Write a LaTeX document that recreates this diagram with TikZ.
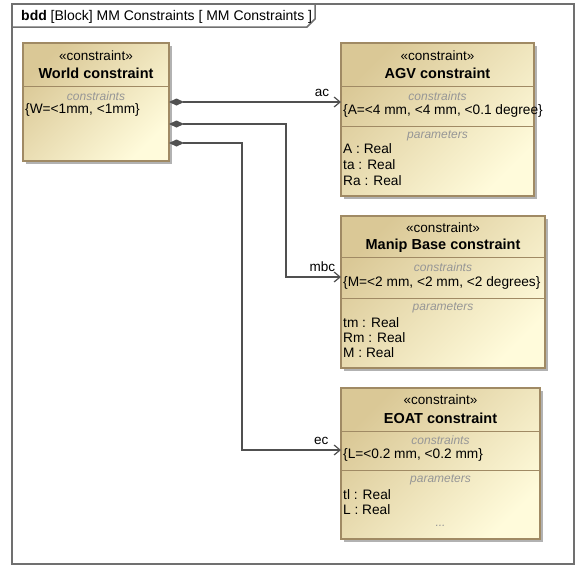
\documentclass[tikz,border=0pt]{standalone}
\usepackage{fontspec}
\setmainfont{Liberation Sans}
\usetikzlibrary{positioning,arrows.meta,shadows}
\definecolor{blocktan}{RGB}{218,200,150}
\definecolor{blocklight}{RGB}{255,251,219}
\definecolor{blockedge}{RGB}{160,138,100}
\definecolor{framegray}{RGB}{112,112,112}
\definecolor{linkgray}{RGB}{80,80,80}
\definecolor{captiongray}{RGB}{150,150,150}

\begin{document}
\begin{tikzpicture}[
x=1pt, y=-1pt,
frame/.style={draw=framegray, line width=1.5pt},
frametext/.style={font=\fontsize{14}{16}\selectfont, inner sep=0pt},
block/.style={draw=blockedge, line width=1.3pt, inner sep=0pt, outer sep=0pt, anchor=north west,
  top color=blocktan, bottom color=blocklight, shading angle=45,
  drop shadow={shadow xshift=3pt, shadow yshift=-3pt, fill=black!30, opacity=1}},
divider/.style={draw=blockedge, line width=1pt},
stereo/.style={font=\fontsize{13.5}{16}\selectfont, inner sep=0pt},
bname/.style={font=\fontsize{14.5}{17}\selectfont\bfseries, inner sep=0pt},
caption/.style={font=\fontsize{12}{14}\selectfont\itshape, text=captiongray, inner sep=0pt},
entry/.style={font=\fontsize{13.7}{16}\selectfont, anchor=west, inner sep=0pt},
link/.style={draw=linkgray, line width=1.2pt, {Diamond[length=15pt,width=7pt]}-{Straight Barb[length=6pt,width=10pt]}},
lbl/.style={font=\fontsize{13.5}{16}\selectfont, inner sep=1pt, above=4pt}
]
\useasboundingbox[fill=white] (0,0) rectangle (577,566);

% frame and its tab
\draw[frame] (12,4) rectangle (574,564);
\draw[frame] (12,27) -- (307,27) -- (315,19) -- (315,4);
\node[frametext, anchor=base west] (title) at (21,20) {\textbf{bdd} [Block] MM Constraints [ MM Constraints ]};

% constraint blocks
\node[block, minimum width=146pt, minimum height=118pt] (world) at (23,43) {};
\node[block, minimum width=193pt, minimum height=153pt] (agv) at (341,43) {};
\node[block, minimum width=204pt, minimum height=152pt] (manip) at (341,216) {};
\node[block, minimum width=199pt, minimum height=151pt] (eoat) at (341,388) {};

% World constraint
\node[stereo] at ([yshift=-13pt]world.north) {«constraint»};
\node[bname] at ([yshift=-30pt]world.north) {World constraint};
\draw[divider] ([yshift=-43pt]world.north west) -- ([yshift=-43pt]world.north east);
\node[caption] at ([yshift=-53pt]world.north) {constraints};
\node[entry] at ([shift={(2pt,-67pt)}]world.north west) {\{W=<1mm, <1mm\}};

% AGV constraint
\node[stereo] at ([yshift=-13pt]agv.north) {«constraint»};
\node[bname] at ([yshift=-30pt]agv.north) {AGV constraint};
\draw[divider] ([yshift=-43pt]agv.north west) -- ([yshift=-43pt]agv.north east);
\node[caption] at ([yshift=-53pt]agv.north) {constraints};
\node[entry] at ([shift={(2pt,-68pt)}]agv.north west) {\{A=<4 mm, <4 mm, <0.1 degree\}};
\draw[divider] ([yshift=-83pt]agv.north west) -- ([yshift=-83pt]agv.north east);
\node[caption] at ([yshift=-93pt]agv.north) {parameters};
\node[entry] at ([shift={(2pt,-106pt)}]agv.north west) {A : Real};
\node[entry] at ([shift={(2pt,-122pt)}]agv.north west) {ta : Real};
\node[entry] at ([shift={(2pt,-138pt)}]agv.north west) {Ra : Real};

% Manip Base constraint
\node[stereo] at ([yshift=-12pt]manip.north) {«constraint»};
\node[bname] at ([yshift=-30pt]manip.north) {Manip Base constraint};
\draw[divider] ([yshift=-41pt]manip.north west) -- ([yshift=-41pt]manip.north east);
\node[caption] at ([yshift=-51pt]manip.north) {constraints};
\node[entry] at ([shift={(2pt,-67pt)}]manip.north west) {\{M=<2 mm, <2 mm, <2 degrees\}};
\draw[divider] ([yshift=-82pt]manip.north west) -- ([yshift=-82pt]manip.north east);
\node[caption] at ([yshift=-92pt]manip.north) {parameters};
\node[entry] at ([shift={(2pt,-107pt)}]manip.north west) {tm : Real};
\node[entry] at ([shift={(2pt,-122pt)}]manip.north west) {Rm : Real};
\node[entry] at ([shift={(2pt,-137pt)}]manip.north west) {M : Real};

% EOAT constraint
\node[stereo] at ([yshift=-12pt]eoat.north) {«constraint»};
\node[bname] at ([yshift=-30pt]eoat.north) {EOAT constraint};
\draw[divider] ([yshift=-43pt]eoat.north west) -- ([yshift=-43pt]eoat.north east);
\node[caption] at ([yshift=-52pt]eoat.north) {constraints};
\node[entry] at ([shift={(2pt,-67pt)}]eoat.north west) {\{L=<0.2 mm, <0.2 mm\}};
\draw[divider] ([yshift=-82pt]eoat.north west) -- ([yshift=-82pt]eoat.north east);
\node[caption] at ([yshift=-92pt]eoat.north) {parameters};
\node[entry] at ([shift={(2pt,-107pt)}]eoat.north west) {tl : Real};
\node[entry] at ([shift={(2pt,-122pt)}]eoat.north west) {L : Real};
\node[caption] at ([yshift=-138pt]eoat.north) {...};

% composite links
\draw[link] ([yshift=-59pt]world.north east) -- node[lbl, pos=0.89] {ac} ([yshift=-59pt]agv.north west);
\draw[link] ([yshift=-81pt]world.north east) -- ++(117,0) |- node[lbl, pos=0.83] {mbc} ([yshift=-61pt]manip.north west);
\draw[link] ([yshift=-100pt]world.north east) -- ++(73,0) |- node[lbl, pos=0.9] {ec} ([yshift=-62pt]eoat.north west);
\end{tikzpicture}
\end{document}
